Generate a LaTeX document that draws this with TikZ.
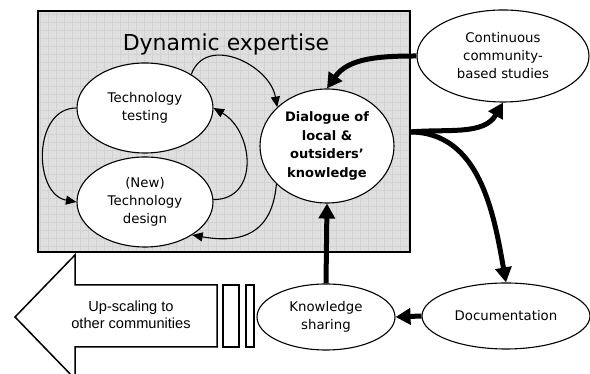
\documentclass[tikz,border=0pt]{standalone}
\usepackage{fontspec}
\setmainfont{DejaVu Sans}
\newfontfamily\arrowfont{Liberation Sans}
\usetikzlibrary{shapes.geometric,arrows.meta}

\definecolor{boxgray}{HTML}{DFDFDF}
\definecolor{gridgray}{HTML}{D2D2D2}

\begin{document}
\begin{tikzpicture}[x=1pt,y=1pt,
    bubble/.style={draw,ellipse,fill=white,line width=1.1pt,inner sep=0pt,align=center,
        font=\fontsize{13.3}{18}\selectfont},
    linkarrow/.style={line width=1.1pt,-{Triangle[length=10.5pt,width=9pt]}},
    flowarrow/.style={line width=5pt,-{Triangle[length=15pt,width=16pt]}}]
    \clip (0,0) rectangle (590,374);
    % dynamic expertise panel
    \fill[boxgray] (38,122) rectangle (410,363);
    \draw[gridgray,line width=0.35pt,step=8] (38,122) grid (410,363);
    \draw[line width=1.6pt] (38,122) rectangle (410,363);
    \node[font=\fontsize{22}{26}\selectfont] (title) at (226,330) {Dynamic expertise};

    \node[bubble,minimum width=136,minimum height=90] (testing) at (145,266) {Technology\\testing};
    \node[bubble,minimum width=136,minimum height=90] (design) at (145,172) {(New)\\Technology\\design};
    \node[bubble,minimum width=134,minimum height=114,font=\fontsize{13}{18.5}\selectfont\bfseries] (dialogue) at (327,228) {Dialogue of\\local \&\\outsiders'\\knowledge};
    \node[bubble,minimum width=172,minimum height=92] (studies) at (503,318) {Continuous\\community-\\based studies};
    \node[bubble,minimum width=168,minimum height=66] (docu) at (506,58) {Documentation};
    \node[bubble,minimum width=138,minimum height=66] (sharing) at (326,57) {Knowledge\\sharing};

    % up-scaling arrow with its two stripes
    \draw[line width=1.5pt,fill=white] (15,57) -- (75,119) -- (75,89) -- (217,89) -- (217,27)
        -- (75,27) -- (75,-5) -- cycle;
    \draw[line width=1.5pt,fill=white] (223,89) rectangle (239,27);
    \draw[line width=1.5pt,fill=white] (246,89) rectangle (254,27);
    \node[align=center,font=\arrowfont\fontsize{14.6}{16.5}\selectfont] (upscale) at (131,59) {Up-scaling to\\other communities};

    % loops inside the panel
    \draw[linkarrow] (testing.36) to[out=70,in=100,looseness=1.2] (dialogue.142);
    \draw[linkarrow] (design.2) to[out=0,in=-30,looseness=1.3] (testing.east);
    \draw[linkarrow] (testing.west) to[out=180,in=170,looseness=1.2] (design.west);
    \draw[linkarrow] (dialogue.217) to[out=-95,in=-10,looseness=1.3] (design.-35);

    % main cycle
    \coordinate (split) at (410,242);
    \draw[flowarrow] (studies.west) to[out=180,in=55] (dialogue.north);
    \draw[flowarrow] (split) to[out=5,in=-120] (studies.south);
    \draw[flowarrow] (split) to[out=0,in=100] (docu.north);
    \draw[flowarrow] (docu.west) -- (sharing.east);
    \draw[flowarrow] (sharing.north) -- (dialogue.south);
\end{tikzpicture}
\end{document}
